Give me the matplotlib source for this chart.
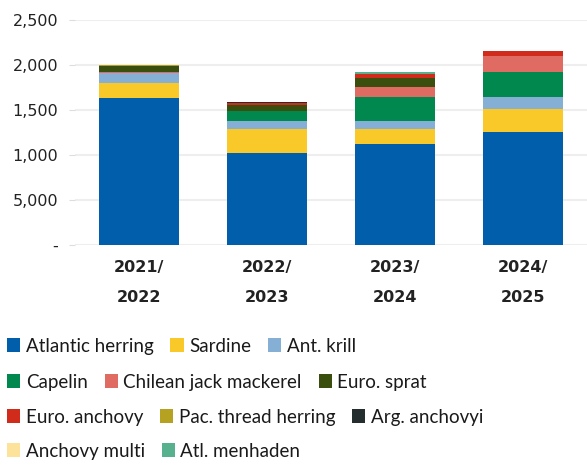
import numpy as np
import matplotlib
matplotlib.use('Agg')
import matplotlib.pyplot as plt
from matplotlib.patches import Patch

# data (thousand tonnes, stacked)
seasons = ['2021/\n2022', '2022/\n2023', '2023/\n2024', '2024/\n2025']
species = ['Atlantic herring', 'Sardine', 'Ant. krill', 'Capelin',
           'Chilean jack mackerel', 'Euro. sprat', 'Euro. anchovy',
           'Pac. thread herring', 'Arg. anchovyi', 'Anchovy multi', 'Atl. menhaden']
atlantic_herring = [1633, 1026, 1122, 1259]
sardine = [167, 263, 167, 252]
ant_krill = [111, 89, 89, 133]
capelin = [0, 111, 267, 278]
chilean_jack = [15, 0, 111, 178]
euro_sprat = [59, 70, 104, 0]
euro_anchovy = [0, 22, 44, 56]
pac_thread = [11, 0, 0, 0]
arg_anchovyi = [0, 11, 0, 0]
anchovy_multi = [0, 0, 0, 0]
atl_menhaden = [0, 0, 18, 0]
ytick_vals = [0, 500, 1000, 1500, 2000, 2500]
ytick_labels = ['-', '5,000', '1,000', '1,500', '2,000', '2,500']

colors = ['#005EAA', '#F9C92A', '#86AFD6', '#00884F', '#E06B63', '#3A4E0E',
          '#D12B1C', '#B5A220', '#252E2F', '#FCE29A', '#58B18E']

series = [atlantic_herring, sardine, ant_krill, capelin, chilean_jack, euro_sprat,
          euro_anchovy, pac_thread, arg_anchovyi, anchovy_multi, atl_menhaden]

fig = plt.figure(figsize=(5.87, 4.65), dpi=100)
ax = fig.add_axes([75 / 587, 1 - 245 / 465, 1 - 75 / 587, 225 / 465])

x = np.arange(len(seasons))
bottom = np.zeros(len(seasons))
for vals, c in zip(series, colors):
    ax.bar(x, vals, width=0.625, bottom=bottom, color=c, zorder=3)
    bottom += np.array(vals)

ax.set_xlim(-0.5, 3.5)
ax.set_ylim(0, 2500)
ax.set_yticks(ytick_vals)
ax.set_yticklabels(ytick_labels, fontsize=11.5, color='#222222', family='DejaVu Sans')
ax.set_xticks(x)
ax.set_xticklabels(seasons, fontsize=11.5, fontweight='bold', color='#222222',
                   linespacing=2.25, family='DejaVu Sans')
ax.grid(axis='y', color='#EEEEEE', linewidth=1.5, zorder=0)
ax.tick_params(axis='y', length=4, color='#DDDDDD', pad=8)
ax.tick_params(axis='x', length=0, pad=11)
for s in ax.spines.values():
    s.set_visible(False)

# flowing legend, one row at a time
rows = [[0, 1, 2], [3, 4, 5], [6, 7, 8], [9, 10]]
row_y = [1 - 346 / 465, 1 - 382 / 465, 1 - 417 / 465, 1 - 451 / 465]
for r, yy in zip(rows, row_y):
    handles = [Patch(facecolor=colors[i], edgecolor='none', label=species[i]) for i in r]
    fig.legend(handles=handles, loc='center left', bbox_to_anchor=(7 / 587, yy),
               ncol=len(r), frameon=False, borderpad=0, borderaxespad=0,
               handlelength=0.7, handleheight=0.7, handletextpad=0.3,
               columnspacing=0.9, labelcolor='#1A1A1A',
               prop={'family': ['Lato', 'DejaVu Sans'], 'size': 13.5})

fig.savefig('out.png', dpi=100)
